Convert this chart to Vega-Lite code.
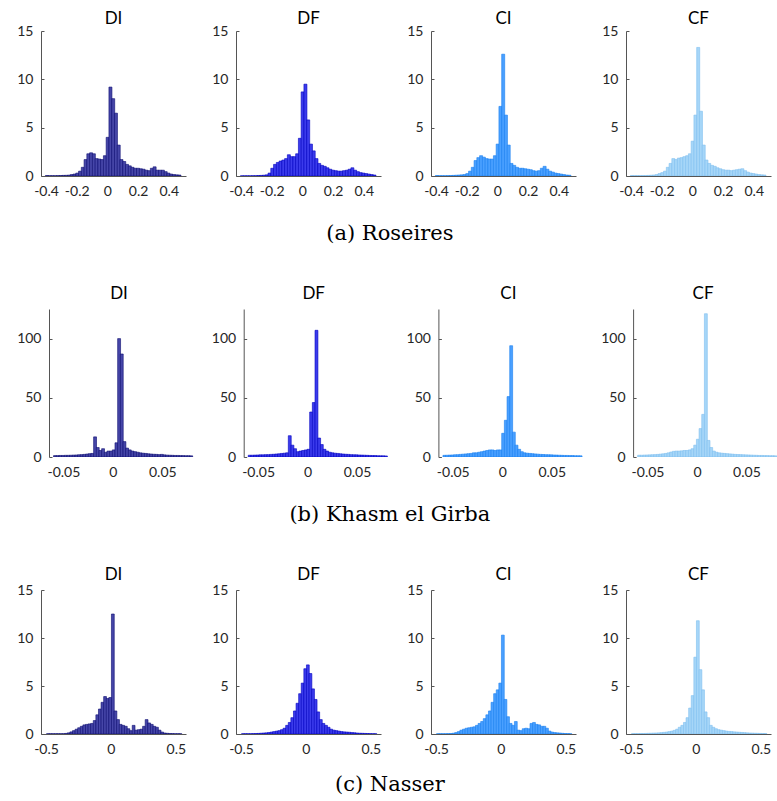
{
 "$schema": "https://vega.github.io/schema/vega-lite/v6.json",
 "padding": {"left": 16, "top": 10, "right": 0, "bottom": 0},
 "background": "white",
 "config": {
  "view": {"stroke": null},
  "font": "Lato",
  "axis": {"grid": false, "title": null, "labelFont": "Lato", "labelFontSize": 14, "labelColor": "#262626", "domainColor": "#555555", "tickColor": "#555555", "labelFlush": false, "labelOverlap": false},
  "header": {"labelFont": "Lato", "labelFontSize": 17, "labelColor": "#000000"},
  "title": {"font": "DejaVu Serif", "fontSize": 21, "fontWeight": "normal", "color": "#000000", "orient": "bottom", "anchor": "middle"}
 },
 "datasets": {
  "ra": [
   {"x":-0.394,"DI":0.05,"DF":0.02,"CI":0.05,"CF":0.05},
   {"x":-0.376,"DI":0.03,"DF":0.02,"CI":0.03,"CF":0.04},
   {"x":-0.358,"DI":0.03,"DF":0.02,"CI":0.03,"CF":0.04},
   {"x":-0.34,"DI":0.03,"DF":0.02,"CI":0.03,"CF":0.04},
   {"x":-0.322,"DI":0.04,"DF":0.03,"CI":0.04,"CF":0.05},
   {"x":-0.304,"DI":0.05,"DF":0.03,"CI":0.05,"CF":0.05},
   {"x":-0.286,"DI":0.06,"DF":0.05,"CI":0.06,"CF":0.06},
   {"x":-0.268,"DI":0.07,"DF":0.06,"CI":0.08,"CF":0.08},
   {"x":-0.25,"DI":0.09,"DF":0.08,"CI":0.1,"CF":0.1},
   {"x":-0.232,"DI":0.15,"DF":0.12,"CI":0.12,"CF":0.15},
   {"x":-0.214,"DI":0.2,"DF":0.3,"CI":0.15,"CF":0.25},
   {"x":-0.196,"DI":0.3,"DF":0.8,"CI":0.25,"CF":0.35},
   {"x":-0.178,"DI":0.5,"DF":1.2,"CI":0.5,"CF":0.5},
   {"x":-0.16,"DI":0.9,"DF":1.4,"CI":0.9,"CF":0.9},
   {"x":-0.142,"DI":1.7,"DF":1.55,"CI":1.6,"CF":1.3},
   {"x":-0.124,"DI":2.3,"DF":1.65,"CI":1.9,"CF":1.8},
   {"x":-0.106,"DI":2.4,"DF":1.8,"CI":2.1,"CF":1.7},
   {"x":-0.088,"DI":2.3,"DF":2.2,"CI":1.95,"CF":1.85},
   {"x":-0.07,"DI":1.8,"DF":2.0,"CI":1.8,"CF":1.9},
   {"x":-0.052,"DI":1.75,"DF":2.0,"CI":1.75,"CF":2.0},
   {"x":-0.034,"DI":1.7,"DF":2.3,"CI":1.75,"CF":2.1},
   {"x":-0.016,"DI":2.1,"DF":3.9,"CI":2.1,"CF":2.3},
   {"x":0.002,"DI":4.0,"DF":8.7,"CI":3.3,"CF":3.6},
   {"x":0.02,"DI":9.2,"DF":9.5,"CI":7.2,"CF":6.3},
   {"x":0.038,"DI":8.0,"DF":5.8,"CI":12.6,"CF":13.3},
   {"x":0.056,"DI":6.5,"DF":3.3,"CI":6.3,"CF":6.7},
   {"x":0.074,"DI":3.2,"DF":2.6,"CI":3.2,"CF":3.2},
   {"x":0.092,"DI":1.7,"DF":1.8,"CI":1.3,"CF":1.65},
   {"x":0.11,"DI":1.5,"DF":1.3,"CI":1.1,"CF":1.3},
   {"x":0.128,"DI":1.2,"DF":1.1,"CI":0.9,"CF":1.1},
   {"x":0.146,"DI":1.05,"DF":1.0,"CI":0.8,"CF":1.0},
   {"x":0.164,"DI":0.9,"DF":0.85,"CI":0.8,"CF":0.85},
   {"x":0.182,"DI":0.8,"DF":0.7,"CI":0.75,"CF":0.75},
   {"x":0.2,"DI":0.8,"DF":0.6,"CI":0.7,"CF":0.65},
   {"x":0.218,"DI":0.75,"DF":0.55,"CI":0.65,"CF":0.6},
   {"x":0.236,"DI":0.7,"DF":0.5,"CI":0.55,"CF":0.6},
   {"x":0.254,"DI":0.6,"DF":0.5,"CI":0.5,"CF":0.55},
   {"x":0.272,"DI":0.55,"DF":0.55,"CI":0.55,"CF":0.6},
   {"x":0.29,"DI":0.8,"DF":0.6,"CI":0.8,"CF":0.65},
   {"x":0.308,"DI":0.95,"DF":0.7,"CI":1.0,"CF":0.7},
   {"x":0.326,"DI":0.6,"DF":0.85,"CI":0.7,"CF":0.75},
   {"x":0.344,"DI":0.6,"DF":0.6,"CI":0.5,"CF":0.55},
   {"x":0.362,"DI":0.6,"DF":0.45,"CI":0.4,"CF":0.4},
   {"x":0.38,"DI":0.45,"DF":0.35,"CI":0.3,"CF":0.3},
   {"x":0.398,"DI":0.3,"DF":0.3,"CI":0.25,"CF":0.25},
   {"x":0.416,"DI":0.2,"DF":0.25,"CI":0.2,"CF":0.2},
   {"x":0.434,"DI":0.15,"DF":0.2,"CI":0.15,"CF":0.15},
   {"x":0.452,"DI":0.12,"DF":0.15,"CI":0.1,"CF":0.12},
   {"x":0.47,"DI":0.1,"DF":0.1,"CI":0.08,"CF":0.1}
  ],
  "rb": [
   {"x":-0.0585,"DI":1.2,"DF":1.5,"CI":1.4,"CF":1.5},
   {"x":-0.0558,"DI":1.2,"DF":1.5,"CI":1.5,"CF":1.5},
   {"x":-0.0531,"DI":1.3,"DF":1.6,"CI":1.6,"CF":1.6},
   {"x":-0.0504,"DI":1.3,"DF":1.7,"CI":1.7,"CF":1.7},
   {"x":-0.0477,"DI":1.4,"DF":1.8,"CI":1.9,"CF":1.8},
   {"x":-0.045,"DI":1.4,"DF":1.8,"CI":2,"CF":1.9},
   {"x":-0.0423,"DI":1.5,"DF":2,"CI":2.2,"CF":2.0},
   {"x":-0.0396,"DI":1.6,"DF":2,"CI":2.4,"CF":2.2},
   {"x":-0.0369,"DI":1.7,"DF":2.2,"CI":2.6,"CF":2.4},
   {"x":-0.0342,"DI":1.9,"DF":2.3,"CI":2.8,"CF":2.7},
   {"x":-0.0315,"DI":2.0,"DF":2.5,"CI":3,"CF":3.0},
   {"x":-0.0288,"DI":2.2,"DF":2.7,"CI":3.5,"CF":3.5},
   {"x":-0.0261,"DI":2.5,"DF":3,"CI":3.5,"CF":4.2},
   {"x":-0.0234,"DI":2.8,"DF":3.2,"CI":4,"CF":4.8},
   {"x":-0.0207,"DI":3.0,"DF":3.5,"CI":4.5,"CF":5.0},
   {"x":-0.018,"DI":17,"DF":18,"CI":5,"CF":5.0},
   {"x":-0.0153,"DI":8,"DF":10,"CI":5.5,"CF":5.2},
   {"x":-0.0126,"DI":5.5,"DF":7,"CI":6,"CF":5.5},
   {"x":-0.0099,"DI":7,"DF":4.5,"CI":6,"CF":5.5},
   {"x":-0.0072,"DI":4,"DF":5,"CI":5.5,"CF":6},
   {"x":-0.0045,"DI":5,"DF":5.5,"CI":6,"CF":7},
   {"x":-0.0018,"DI":5,"DF":6,"CI":6,"CF":10},
   {"x":0.0009,"DI":6,"DF":6.5,"CI":20,"CF":15},
   {"x":0.0036,"DI":12,"DF":38,"CI":31,"CF":24},
   {"x":0.0063,"DI":100,"DF":46,"CI":51,"CF":36},
   {"x":0.009,"DI":87,"DF":107,"CI":94,"CF":121},
   {"x":0.0117,"DI":13,"DF":16,"CI":21,"CF":14},
   {"x":0.0144,"DI":7.5,"DF":10.5,"CI":10,"CF":8},
   {"x":0.0171,"DI":6,"DF":6.5,"CI":6.5,"CF":5},
   {"x":0.0198,"DI":5,"DF":5,"CI":4.5,"CF":4},
   {"x":0.0225,"DI":4.5,"DF":4,"CI":3.5,"CF":3.5},
   {"x":0.0252,"DI":4,"DF":3.5,"CI":3.2,"CF":3.2},
   {"x":0.0279,"DI":3.5,"DF":3.2,"CI":3,"CF":3},
   {"x":0.0306,"DI":3.2,"DF":3,"CI":2.8,"CF":2.8},
   {"x":0.0333,"DI":3,"DF":2.7,"CI":2.6,"CF":2.6},
   {"x":0.036,"DI":2.7,"DF":2.5,"CI":2.4,"CF":2.4},
   {"x":0.0387,"DI":2.5,"DF":2.3,"CI":2.2,"CF":2.2},
   {"x":0.0414,"DI":2.3,"DF":2.2,"CI":2.1,"CF":2.1},
   {"x":0.0441,"DI":2.2,"DF":2.0,"CI":2,"CF":2},
   {"x":0.0468,"DI":2,"DF":1.9,"CI":1.9,"CF":1.9},
   {"x":0.0495,"DI":2.2,"DF":1.8,"CI":1.8,"CF":1.8},
   {"x":0.0522,"DI":1.8,"DF":1.7,"CI":1.7,"CF":1.7},
   {"x":0.0549,"DI":1.6,"DF":1.6,"CI":1.6,"CF":1.6},
   {"x":0.0576,"DI":1.5,"DF":1.5,"CI":1.5,"CF":1.5},
   {"x":0.0603,"DI":1.4,"DF":1.4,"CI":1.4,"CF":1.4},
   {"x":0.063,"DI":1.3,"DF":1.3,"CI":1.3,"CF":1.3},
   {"x":0.0657,"DI":1.3,"DF":1.2,"CI":1.3,"CF":1.3},
   {"x":0.0684,"DI":1.2,"DF":1.2,"CI":1.2,"CF":1.2},
   {"x":0.0711,"DI":1.2,"DF":1.1,"CI":1.2,"CF":1.2},
   {"x":0.0738,"DI":1.1,"DF":1.0,"CI":1.1,"CF":1.1},
   {"x":0.0765,"DI":1.1,"DF":1.0,"CI":1.1,"CF":1.1},
   {"x":0.0792,"DI":1.0,"DF":0.9,"CI":1.0,"CF":1.0}
  ],
  "rc": [
   {"x":-0.485,"DI":0.03,"DF":0.03,"CI":0.03,"CF":0.04},
   {"x":-0.465,"DI":0.03,"DF":0.03,"CI":0.03,"CF":0.04},
   {"x":-0.445,"DI":0.03,"DF":0.03,"CI":0.03,"CF":0.04},
   {"x":-0.425,"DI":0.03,"DF":0.03,"CI":0.03,"CF":0.05},
   {"x":-0.405,"DI":0.03,"DF":0.04,"CI":0.04,"CF":0.05},
   {"x":-0.385,"DI":0.03,"DF":0.05,"CI":0.05,"CF":0.06},
   {"x":-0.365,"DI":0.03,"DF":0.06,"CI":0.08,"CF":0.07},
   {"x":-0.345,"DI":0.06,"DF":0.08,"CI":0.15,"CF":0.08},
   {"x":-0.325,"DI":0.12,"DF":0.1,"CI":0.25,"CF":0.09},
   {"x":-0.305,"DI":0.22,"DF":0.12,"CI":0.4,"CF":0.1},
   {"x":-0.285,"DI":0.35,"DF":0.15,"CI":0.5,"CF":0.12},
   {"x":-0.265,"DI":0.5,"DF":0.2,"CI":0.6,"CF":0.14},
   {"x":-0.245,"DI":0.65,"DF":0.25,"CI":0.65,"CF":0.17},
   {"x":-0.225,"DI":0.8,"DF":0.3,"CI":0.7,"CF":0.2},
   {"x":-0.205,"DI":0.95,"DF":0.35,"CI":0.75,"CF":0.25},
   {"x":-0.185,"DI":1.0,"DF":0.45,"CI":0.9,"CF":0.3},
   {"x":-0.165,"DI":1.05,"DF":0.6,"CI":1.1,"CF":0.38},
   {"x":-0.145,"DI":1.1,"DF":0.9,"CI":1.3,"CF":0.5},
   {"x":-0.125,"DI":1.4,"DF":1.2,"CI":1.6,"CF":0.7},
   {"x":-0.105,"DI":2.0,"DF":1.7,"CI":2.0,"CF":0.9},
   {"x":-0.085,"DI":2.6,"DF":2.4,"CI":2.4,"CF":1.2},
   {"x":-0.065,"DI":3.3,"DF":3.2,"CI":3.3,"CF":1.7},
   {"x":-0.045,"DI":3.9,"DF":4.2,"CI":4.2,"CF":2.7},
   {"x":-0.025,"DI":3.7,"DF":5.3,"CI":4.6,"CF":4.0},
   {"x":-0.005,"DI":3.8,"DF":6.8,"CI":5.3,"CF":8.0},
   {"x":0.015,"DI":12.5,"DF":7.2,"CI":10.3,"CF":11.8},
   {"x":0.035,"DI":2.4,"DF":6.3,"CI":3.6,"CF":6.7},
   {"x":0.055,"DI":1.5,"DF":4.7,"CI":1.8,"CF":4.6},
   {"x":0.075,"DI":1.0,"DF":3.6,"CI":1.1,"CF":2.3},
   {"x":0.095,"DI":0.9,"DF":2.3,"CI":0.9,"CF":1.7},
   {"x":0.115,"DI":0.8,"DF":1.5,"CI":1.3,"CF":0.9},
   {"x":0.135,"DI":0.55,"DF":1.1,"CI":0.4,"CF":0.7},
   {"x":0.155,"DI":0.35,"DF":0.9,"CI":0.35,"CF":0.55},
   {"x":0.175,"DI":0.9,"DF":0.7,"CI":0.55,"CF":0.45},
   {"x":0.195,"DI":0.4,"DF":0.5,"CI":0.6,"CF":0.4},
   {"x":0.215,"DI":0.45,"DF":0.4,"CI":0.55,"CF":0.35},
   {"x":0.235,"DI":0.5,"DF":0.35,"CI":1.1,"CF":0.3},
   {"x":0.255,"DI":0.8,"DF":0.3,"CI":1.2,"CF":0.27},
   {"x":0.275,"DI":1.5,"DF":0.25,"CI":1.0,"CF":0.25},
   {"x":0.295,"DI":1.15,"DF":0.22,"CI":0.95,"CF":0.22},
   {"x":0.315,"DI":1.0,"DF":0.2,"CI":0.8,"CF":0.2},
   {"x":0.335,"DI":0.8,"DF":0.18,"CI":0.8,"CF":0.18},
   {"x":0.355,"DI":0.7,"DF":0.15,"CI":0.6,"CF":0.16},
   {"x":0.375,"DI":0.4,"DF":0.13,"CI":0.3,"CF":0.14},
   {"x":0.395,"DI":0.2,"DF":0.1,"CI":0.2,"CF":0.12},
   {"x":0.415,"DI":0.1,"DF":0.08,"CI":0.15,"CF":0.1},
   {"x":0.435,"DI":0.07,"DF":0.07,"CI":0.12,"CF":0.09},
   {"x":0.455,"DI":0.05,"DF":0.06,"CI":0.1,"CF":0.08},
   {"x":0.475,"DI":0.04,"DF":0.05,"CI":0.07,"CF":0.07},
   {"x":0.495,"DI":0.03,"DF":0.04,"CI":0.05,"CF":0.06},
   {"x":0.515,"DI":0.03,"DF":0.03,"CI":0.04,"CF":0.05},
   {"x":0.535,"DI":0.03,"DF":0.03,"CI":0.03,"CF":0.05}
  ]
 },
 "spacing": 41,
 "vconcat": [
  {
   "data": {"name": "ra"},
   "transform": [{"fold": ["DI", "DF", "CI", "CF"], "as": ["p", "y"]}],
   "title": {"text": "(a) Roseires", "offset": 25, "dx": -4},
   "facet": {"column": {"field": "p", "type": "nominal", "sort": ["DI", "DF", "CI", "CF"], "title": null, "header": {"labelPadding": 3}}},
   "spacing": 50,
   "bounds": "flush",
   "resolve": {"axis": {"y": "independent"}},
   "spec": {
    "width": 145, "height": 145,
    "mark": {"type": "bar", "size": 3, "strokeWidth": 0.6, "clip": true},
    "encoding": {
     "x": {"field": "x", "type": "quantitative", "scale": {"domain": [-0.4, 0.48], "nice": false, "zero": false}, "axis": {"values": [-0.4, -0.2, 0, 0.2, 0.4], "labelExpr": "replace(format(datum.value, '~g'), '\u2212', '-')", "ticks": false, "labelPadding": 8}},
     "y": {"field": "y", "type": "quantitative", "scale": {"domain": [0, 15], "nice": false}, "axis": {"values": [0, 5, 10, 15], "tickSize": -3, "labelPadding": 11}},
     "color": {"field": "p", "type": "nominal", "scale": {"domain": ["DI", "DF", "CI", "CF"], "range": ["#4646a8", "#3b3bec", "#4aa0ff", "#a6d6f8"]}, "legend": null},
     "stroke": {"field": "p", "type": "nominal", "scale": {"domain": ["DI", "DF", "CI", "CF"], "range": ["#0c0c70", "#0000c0", "#1a80f0", "#80c0f0"]}, "legend": null}
    }
   }
  },
  {
   "data": {"name": "rb"},
   "transform": [{"fold": ["DI", "DF", "CI", "CF"], "as": ["p", "y"]}],
   "title": {"text": "(b) Khasm el Girba", "offset": 25, "dx": -9},
   "facet": {"column": {"field": "p", "type": "nominal", "sort": ["DI", "DF", "CI", "CF"], "title": null, "header": {"labelPadding": 6}}},
   "spacing": 38.7,
   "bounds": "flush",
   "resolve": {"axis": {"y": "independent"}},
   "spec": {
    "width": 156, "height": 148,
    "mark": {"type": "bar", "size": 2.9, "strokeWidth": 0.6, "clip": true},
    "encoding": {
     "x": {"field": "x", "type": "quantitative", "scale": {"domain": [-0.0676, 0.08], "nice": false, "zero": false}, "axis": {"values": [-0.05, 0, 0.05], "labelExpr": "replace(format(datum.value, '~g'), '\u2212', '-')", "ticks": false, "domain": false, "labelPadding": 8}},
     "y": {"field": "y", "type": "quantitative", "scale": {"domain": [0, 125], "nice": false}, "axis": {"values": [0, 50, 100], "tickSize": -3, "labelPadding": 11, "offset": -8}},
     "color": {"field": "p", "type": "nominal", "scale": {"domain": ["DI", "DF", "CI", "CF"], "range": ["#4646a8", "#3b3bec", "#4aa0ff", "#a6d6f8"]}, "legend": null},
     "stroke": {"field": "p", "type": "nominal", "scale": {"domain": ["DI", "DF", "CI", "CF"], "range": ["#0c0c70", "#0000c0", "#1a80f0", "#80c0f0"]}, "legend": null}
    }
   }
  },
  {
   "data": {"name": "rc"},
   "transform": [{"fold": ["DI", "DF", "CI", "CF"], "as": ["p", "y"]}],
   "title": {"text": "(c) Nasser", "offset": 18, "dx": -4},
   "facet": {"column": {"field": "p", "type": "nominal", "sort": ["DI", "DF", "CI", "CF"], "title": null, "header": {"labelPadding": 6}}},
   "spacing": 50,
   "bounds": "flush",
   "resolve": {"axis": {"y": "independent"}},
   "spec": {
    "width": 145, "height": 144,
    "mark": {"type": "bar", "size": 2.8, "strokeWidth": 0.6, "clip": true},
    "encoding": {
     "x": {"field": "x", "type": "quantitative", "scale": {"domain": [-0.5, 0.54], "nice": false, "zero": false}, "axis": {"values": [-0.5, 0, 0.5], "labelExpr": "replace(format(datum.value, '~g'), '\u2212', '-')", "ticks": false, "labelPadding": 8}},
     "y": {"field": "y", "type": "quantitative", "scale": {"domain": [0, 15], "nice": false}, "axis": {"values": [0, 5, 10, 15], "tickSize": -3, "labelPadding": 11}},
     "color": {"field": "p", "type": "nominal", "scale": {"domain": ["DI", "DF", "CI", "CF"], "range": ["#4646a8", "#3b3bec", "#4aa0ff", "#a6d6f8"]}, "legend": null},
     "stroke": {"field": "p", "type": "nominal", "scale": {"domain": ["DI", "DF", "CI", "CF"], "range": ["#0c0c70", "#0000c0", "#1a80f0", "#80c0f0"]}, "legend": null}
    }
   }
  }
 ]
}
